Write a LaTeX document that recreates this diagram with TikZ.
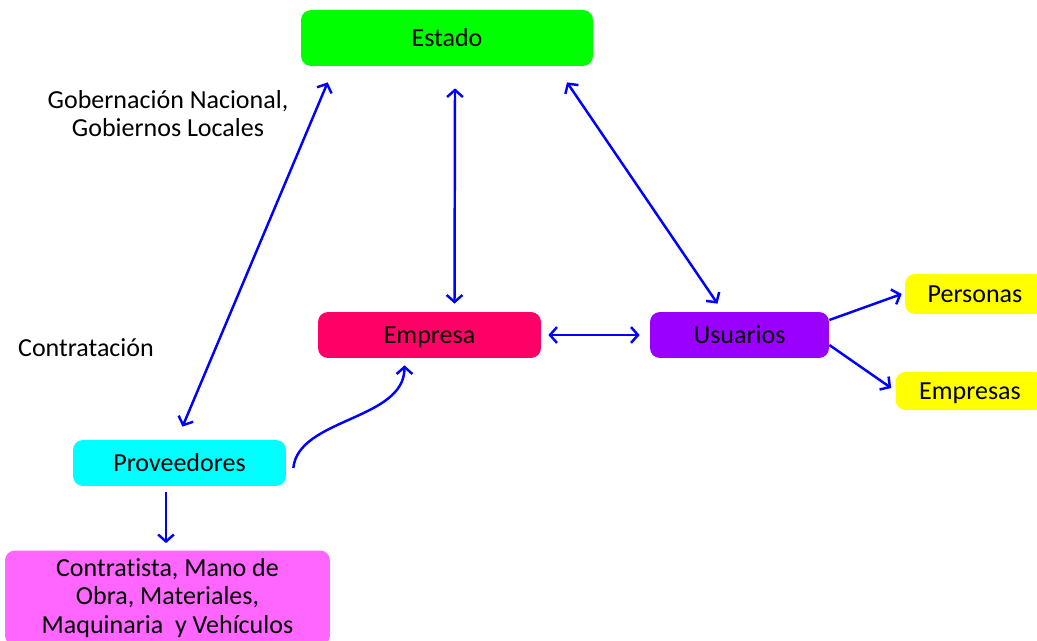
\documentclass[tikz,border=0pt]{standalone}
\usepackage{fontspec}
\setmainfont[Ligatures=NoCommon]{Carlito}
\usetikzlibrary{arrows.meta}

\begin{document}
\begin{tikzpicture}[x=0.02cm, y=-0.02cm,
    boxnode/.style={rounded corners=0.2cm, inner sep=2pt, font=\fontsize{14.8}{16}\selectfont},
    onerow/.style={boxnode, text height=9.5pt, text depth=0pt},
    arr/.style={draw=blue, line width=1.4pt, >={Straight Barb[length=4pt,width=9pt]}},
    ]
    \useasboundingbox (0,0) rectangle (1037,641);

    \node [onerow, fill={rgb,255:red,0;green,255;blue,0}, minimum width=5.84cm, minimum height=1.12cm] (estado) at (447,38) {Estado};
    \node [onerow, fill={rgb,255:red,255;green,0;blue,102}, minimum width=4.46cm, minimum height=0.92cm] (empresa) at (429.5,335) {Empresa};
    \node [onerow, fill={rgb,255:red,153;green,0;blue,255}, minimum width=3.58cm, minimum height=0.92cm] (usuarios) at (739.5,335) {Usuarios};

    \node [onerow, fill={rgb,255:red,255;green,255;blue,0}, minimum width=2.8cm, minimum height=0.8cm] (personas) at (975,294) {Personas};
    \node [onerow, fill={rgb,255:red,255;green,255;blue,0}, minimum width=2.98cm, minimum height=0.76cm] (empresas) at (970,391) {Empresas};

    \node [onerow, fill={rgb,255:red,0;green,255;blue,255}, minimum width=4.26cm, minimum height=0.92cm] (proveedores) at (179.5,463) {Proveedores};
    \node [boxnode, fill={rgb,255:red,255;green,102;blue,255}, minimum width=6.5cm, minimum height=1.9cm, align=center] (recursos) at (167.5,598)
        {Contratista, Mano de\\Obra, Materiales,\\Maquinaria~ y Vehículos};

    \node [font=\fontsize{14.8}{16}\selectfont, align=center] (gobierno) at (168,114) {Gobernación Nacional,\\Gobiernos Locales};
    \node [font=\fontsize{14.8}{16}\selectfont] (contratacion) at (86,348) {Contratación};

    \draw [arr, <->] ([shift={(27,16)}]estado.south west) -- ([shift={(3,-13)}]proveedores.north);
    \draw [arr, <->] ([shift={(8,22)}]estado.south) -- ([shift={(25,-8)}]empresa.north);
    \draw [arr, <->] ([shift={(120,16)}]estado.south) -- ([shift={(-22,-8)}]usuarios.north);
    \draw [arr, <->] ([xshift=0.14cm]empresa.east) -- ([xshift=-0.2cm]usuarios.west);

    \draw [arr, ->] ([shift={(0,-15)}]usuarios.east) -- ([shift={(-3,0)}]personas.west);
    \draw [arr, ->] ([shift={(0,10)}]usuarios.east) -- ([shift={(-4,-3)}]empresas.west);

    \draw [arr, ->] ([shift={(-13.5,6)}]proveedores.south) -- ([shift={(-1.5,-7)}]recursos.north);
    \draw [arr, ->] ([shift={(7,5)}]proveedores.east) .. controls +(5,-50) and +(0,55) .. ([shift={(-25,7)}]empresa.south);

\end{tikzpicture}
\end{document}
